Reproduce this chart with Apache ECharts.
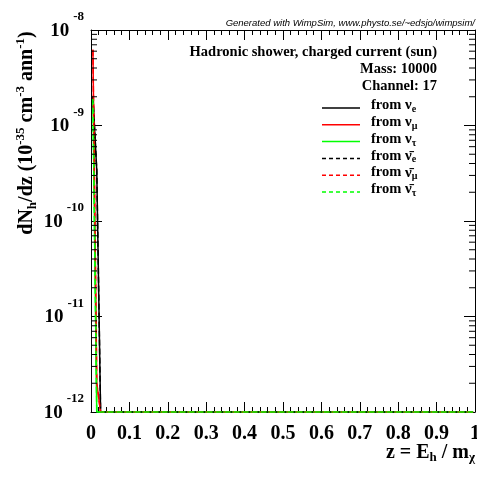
<!DOCTYPE html>
<html><head><meta charset="utf-8">
<script src="https://cdn.jsdelivr.net/npm/echarts@6/dist/echarts.min.js"></script>
<style>html,body{margin:0;padding:0;background:#fff}#c{width:477px;height:479px}</style>
</head><body><div id="c"></div>
<script>
// ---- data ----
const zValues = [0.005, 0.015, 0.025, 0.995];
const fromNuE      = [2.0e-9, 3.4e-10, 0, 0];
const fromNuMu     = [6.2e-9, 2.0e-12, 0, 0];
const fromNuTau    = [1.9e-9, 0, 0, 0];
const fromNuEBar   = [2.0e-9, 3.4e-10, 0, 0];
const fromNuMuBar  = [6.2e-9, 2.0e-12, 0, 0];
const fromNuTauBar = [1.9e-9, 0, 0, 0];
const xTickLabels = ['0','0.1','0.2','0.3','0.4','0.5','0.6','0.7','0.8','0.9','1'];
const yDecades = [-12, -11, -10, -9, -8];
const legendLabels = ['from {g|ν}{s|e}','from {g|ν}{s|μ}','from {g|ν}{s|τ}','from {g|ν̄}{s|e}','from {g|ν̄}{s|μ}','from {g|ν̄}{s|τ}'];
const seriesColors = ['#000000','#ff0000','#00ff00','#000000','#ff0000','#00ff00'];
const seriesDash = ['solid','solid','solid','dashed','dashed','dashed'];
const seriesValues = [fromNuE, fromNuMu, fromNuTau, fromNuEBar, fromNuMuBar, fromNuTauBar];

const yMin = Math.pow(10, yDecades[0]);
const yMax = Math.pow(10, yDecades[yDecades.length-1]);
const serif = '"Liberation Serif", "Times New Roman", serif';

const chart = echarts.init(document.getElementById('c'), null, {renderer:'canvas'});

const lineSeries = seriesValues.map((vals, i) => ({
  type: 'line', xAxisIndex: 0, yAxisIndex: 0,
  data: zValues.map((z, j) => [z, Math.max(vals[j], yMin)]),
  symbol: 'none', clip: false, silent: true, z: 3,
  lineStyle: {color: seriesColors[i], width: 1.5, type: seriesDash[i]}
}));

// minor log ticks positions (2..9 per decade)
const minorVals = [];
for (let d = 0; d < yDecades.length - 1; d++) {
  for (let m = 2; m <= 9; m++) minorVals.push([0, m * Math.pow(10, yDecades[d])]);
}
const minorTickSeries = {
  type: 'custom', xAxisIndex: 0, yAxisIndex: 0, silent: true, clip: false, z: 4,
  data: minorVals,
  renderItem: function (params, api) {
    const v = api.value(1);
    const l = api.coord([0, v]);
    const r = api.coord([1, v]);
    return {type: 'group', children: [
      {type:'line', shape:{x1:l[0], y1:l[1], x2:l[0]+6, y2:l[1]}, style:{stroke:'#000', lineWidth:1}},
      {type:'line', shape:{x1:r[0], y1:r[1], x2:r[0]-6, y2:r[1]}, style:{stroke:'#000', lineWidth:1}}
    ]};
  }
};

// legend graphics
const legendGraphics = [];
legendLabels.forEach((lab, i) => {
  const y = 108 + 16.8 * i;
  legendGraphics.push({type:'line', shape:{x1:322, y1:y, x2:360, y2:y},
    style:{stroke: seriesColors[i], lineWidth: 1.5, lineDash: seriesDash[i]==='dashed' ? [4,3] : null}});
  legendGraphics.push({type:'text', left: 371, top: y - 10, style:{
    text: lab, fill:'#000', font: 'bold 14.5px ' + serif,
    rich: {g:{fontFamily: serif, fontSize: 15, fontWeight:'bold'}, s:{fontFamily: serif, fontSize: 10, fontWeight:'bold', padding:[8,0,0,0]}}
  }});
});

const option = {
  animation: false,
  backgroundColor: '#fff',
  grid: {left: 91, right: 2, top: 30, bottom: 67, containLabel: false, outerBoundsMode: 'none'},
  xAxis: [{
    type: 'value', min: 0, max: 1, interval: 0.1, position: 'bottom',
    axisLine: {onZero:false, lineStyle:{color:'#000', width:1}},
    axisTick: {inside:true, length:10, lineStyle:{color:'#000'}},
    minorTick: {show:true, splitNumber:5, length:5, lineStyle:{color:'#000'}},
    splitLine: {show:false},
    axisLabel: {margin: 12, color:'#000', fontFamily: serif, fontWeight:'bold', fontSize: 20,
      hideOverlap: false, showMinLabel: true, showMaxLabel: true,
      formatter: (v) => xTickLabels[Math.round(v*10)]}
  }, {
    type: 'value', min: 0, max: 1, interval: 0.1, position: 'top',
    axisLine: {onZero:false, lineStyle:{color:'#000', width:1}},
    axisTick: {inside:true, length:10, lineStyle:{color:'#000'}},
    minorTick: {show:true, splitNumber:5, length:5, lineStyle:{color:'#000'}},
    splitLine: {show:false}, axisLabel: {show:false}
  }],
  yAxis: [{
    type: 'log', min: yMin, max: yMax, logBase: 10, position: 'left',
    axisLine: {onZero:false, lineStyle:{color:'#000', width:1}},
    axisTick: {inside:true, length:11, lineStyle:{color:'#000'}},
    splitLine: {show:false},
    axisLabel: {margin: 7, verticalAlign: 'middle', hideOverlap: false,
      formatter: (v) => '{b|10}{s|' + Math.round(Math.log10(v)) + '}',
      rich: {
        b: {fontFamily: serif, fontWeight:'bold', fontSize: 19, lineHeight: 19, color:'#000', padding:[11,0,9,0]},
        s: {fontFamily: serif, fontWeight:'bold', fontSize: 13, lineHeight: 13, color:'#000', padding:[0,0,26,4]}
      }}
  }, {
    type: 'log', min: yMin, max: yMax, logBase: 10, position: 'right',
    axisLine: {onZero:false, lineStyle:{color:'#000', width:1}},
    axisTick: {inside:true, length:11, lineStyle:{color:'#000'}},
    splitLine: {show:false}, axisLabel: {show:false}
  }],
  series: lineSeries.concat([minorTickSeries]),
  graphic: [
    {type:'text', right: 2, top: 18, style:{text:'Generated with WimpSim, www.physto.se/~edsjo/wimpsim/', fill:'#000',
      font:'italic 9.5px "Liberation Sans", Arial, sans-serif'}},
    {type:'text', right: 40, top: 45, style:{text:'Hadronic shower, charged current (sun)', fill:'#000', font:'bold 14.5px ' + serif}},
    {type:'text', right: 40, top: 62, style:{text:'Mass: 10000', fill:'#000', font:'bold 14.5px ' + serif}},
    {type:'text', right: 40, top: 79, style:{text:'Channel: 17', fill:'#000', font:'bold 14.5px ' + serif}},
    {type:'text', right: 2, top: 443, style:{text:'z = E{s|h} / m{s|χ}', fill:'#000', font:'bold 20px ' + serif,
      rich:{s:{fontFamily: serif, fontWeight:'bold', fontSize: 13, padding:[10,0,0,0]}}}},
    {type:'text', x: 27, y: 133, rotation: Math.PI/2, style:{
      text:'dN{s|h}/dz (10{p|-35} cm{p|-3} ann{p|-1})', fill:'#000', font:'bold 20px ' + serif,
      align:'center', verticalAlign:'middle',
      rich:{s:{fontFamily: serif, fontWeight:'bold', fontSize: 13, padding:[12,0,0,0]},
            p:{fontFamily: serif, fontWeight:'bold', fontSize: 13, padding:[0,0,12,0]}}}}
  ].concat(legendGraphics)
};
chart.setOption(option);
</script></body></html>
